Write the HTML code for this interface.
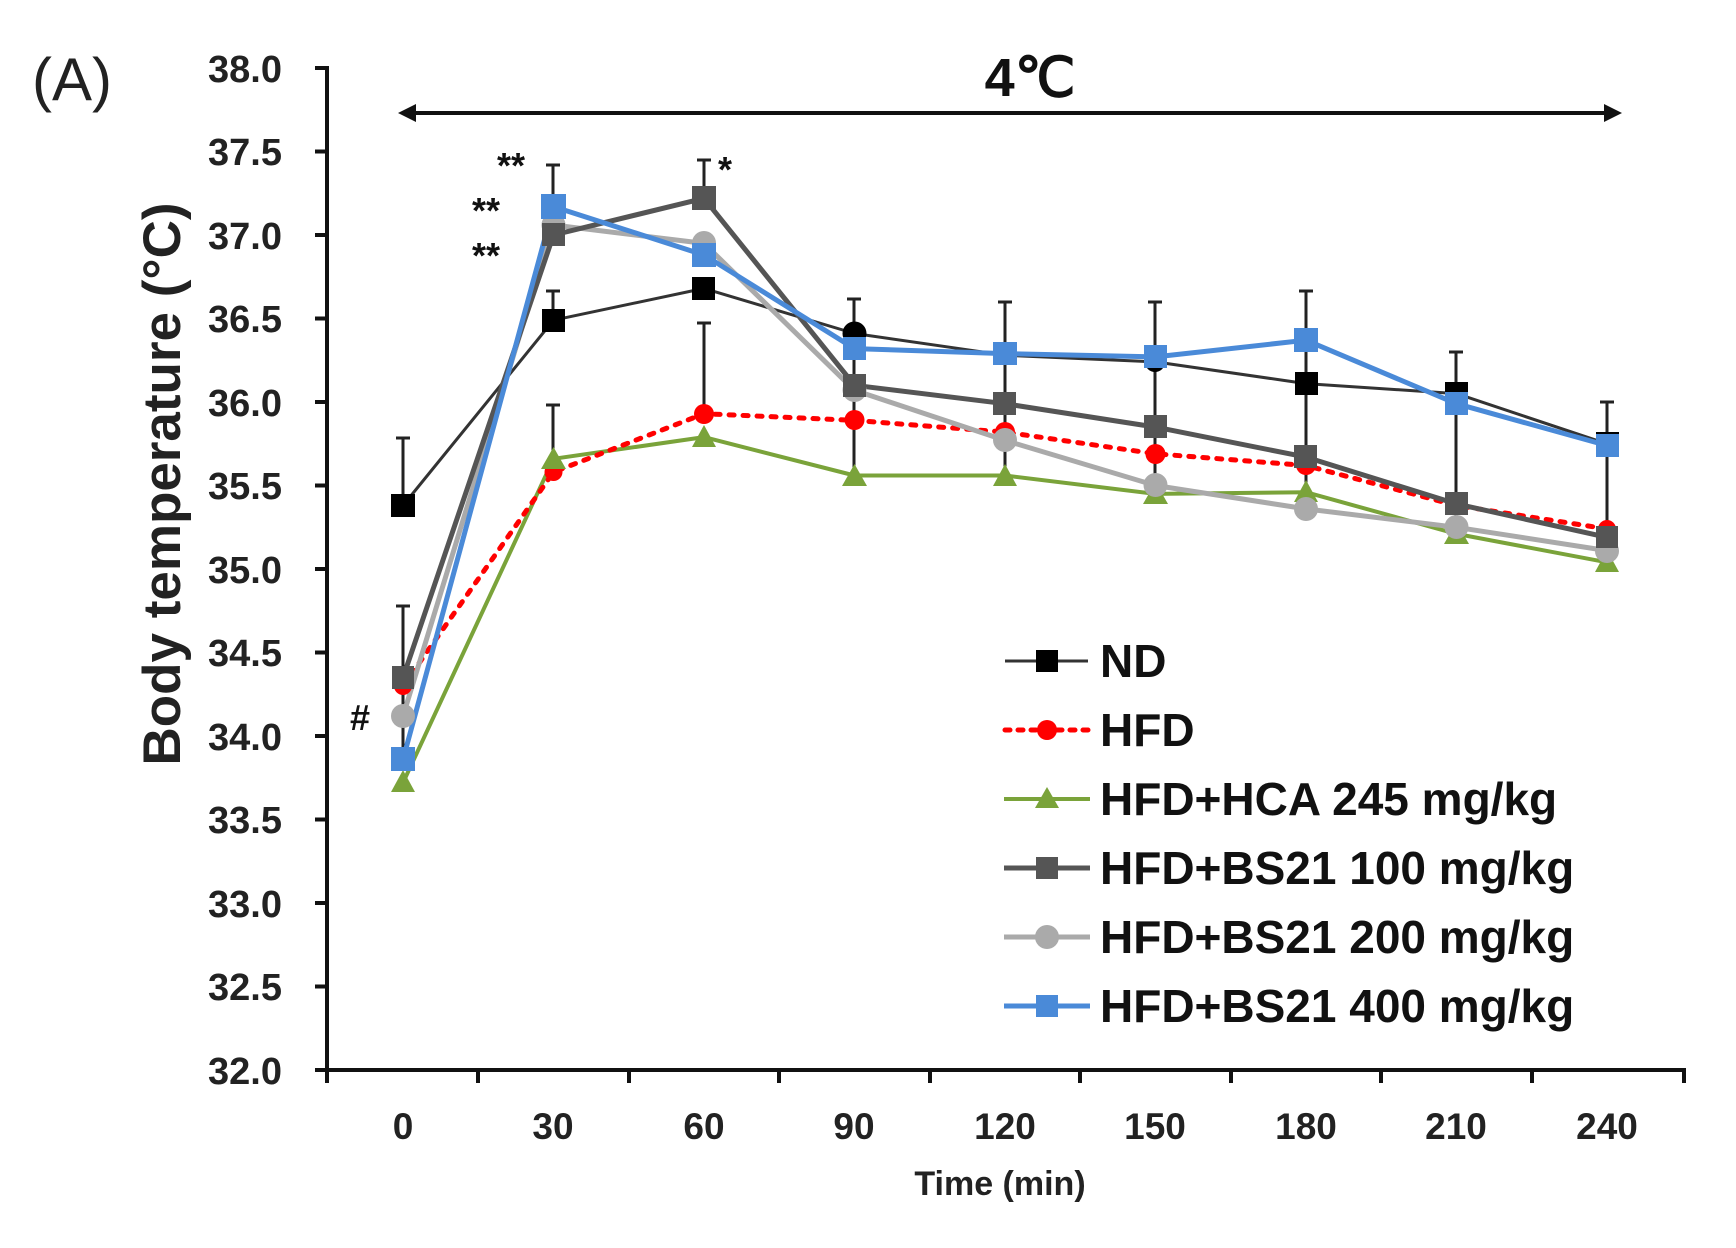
<!DOCTYPE html>
<html><head><meta charset="utf-8"><style>
html,body{margin:0;padding:0;background:#fff;}
svg{display:block;font-family:"Liberation Sans",Arial,sans-serif;}
</style></head><body>
<svg width="1736" height="1248" viewBox="0 0 1736 1248" xmlns="http://www.w3.org/2000/svg">
<rect width="1736" height="1248" fill="#fff"/>
<text x="32" y="100" font-size="60" fill="#222">(A)</text>
<g stroke="#111" stroke-width="4" fill="none">
<line x1="327" y1="66" x2="327" y2="1072"/>
<line x1="325" y1="1070" x2="1686" y2="1070"/>
<line x1="315" y1="68" x2="327" y2="68"/><line x1="315" y1="151.5" x2="327" y2="151.5"/>
<line x1="315" y1="235" x2="327" y2="235"/><line x1="315" y1="318.5" x2="327" y2="318.5"/>
<line x1="315" y1="402" x2="327" y2="402"/><line x1="315" y1="485.5" x2="327" y2="485.5"/>
<line x1="315" y1="569" x2="327" y2="569"/><line x1="315" y1="652.5" x2="327" y2="652.5"/>
<line x1="315" y1="736" x2="327" y2="736"/><line x1="315" y1="819.5" x2="327" y2="819.5"/>
<line x1="315" y1="903" x2="327" y2="903"/><line x1="315" y1="986.5" x2="327" y2="986.5"/>
<line x1="315" y1="1070" x2="327" y2="1070"/>
<line x1="478" y1="1070" x2="478" y2="1083"/><line x1="629" y1="1070" x2="629" y2="1083"/>
<line x1="779" y1="1070" x2="779" y2="1083"/><line x1="930" y1="1070" x2="930" y2="1083"/>
<line x1="1080" y1="1070" x2="1080" y2="1083"/><line x1="1231" y1="1070" x2="1231" y2="1083"/>
<line x1="1381" y1="1070" x2="1381" y2="1083"/><line x1="1532" y1="1070" x2="1532" y2="1083"/>
<line x1="1684" y1="1070" x2="1684" y2="1083"/><line x1="327" y1="1070" x2="327" y2="1083"/>
</g>
<g font-size="38" font-weight="bold" fill="#222" text-anchor="end">
<text x="282" y="82">38.0</text><text x="282" y="165">37.5</text><text x="282" y="249">37.0</text>
<text x="282" y="332">36.5</text><text x="282" y="416">36.0</text><text x="282" y="499">35.5</text>
<text x="282" y="583">35.0</text><text x="282" y="666">34.5</text><text x="282" y="750">34.0</text>
<text x="282" y="833">33.5</text><text x="282" y="917">33.0</text><text x="282" y="1000">32.5</text>
<text x="282" y="1084">32.0</text>
</g>
<g font-size="37" font-weight="bold" fill="#222" text-anchor="middle">
<text x="403" y="1139">0</text><text x="553" y="1139">30</text><text x="704" y="1139">60</text>
<text x="854" y="1139">90</text><text x="1005" y="1139">120</text><text x="1155" y="1139">150</text>
<text x="1306" y="1139">180</text><text x="1456" y="1139">210</text><text x="1607" y="1139">240</text>
</g>
<text x="1000" y="1195" font-size="34" font-weight="bold" fill="#222" text-anchor="middle">Time (min)</text>
<text transform="translate(180,484) rotate(-90)" font-size="53" font-weight="bold" fill="#222" text-anchor="middle">Body temperature (°C)</text>
<text x="1030" y="96" font-size="54" font-weight="bold" fill="#111" text-anchor="middle">4℃</text>
<line x1="410" y1="113" x2="1610" y2="113" stroke="#111" stroke-width="4"/>
<polygon points="398,113 416,104 416,122" fill="#111"/>
<polygon points="1622,113 1604,104 1604,122" fill="#111"/>
<g stroke="#222" stroke-width="3">
<line x1="403" y1="505" x2="403" y2="438"/><line x1="396" y1="438" x2="410" y2="438"/>
<line x1="403" y1="760" x2="403" y2="606"/><line x1="396" y1="606" x2="410" y2="606"/>
<line x1="553" y1="210" x2="553" y2="165"/><line x1="546" y1="165" x2="560" y2="165"/>
<line x1="553" y1="320" x2="553" y2="291"/><line x1="546" y1="291" x2="560" y2="291"/>
<line x1="553" y1="460" x2="553" y2="405"/><line x1="546" y1="405" x2="560" y2="405"/>
<line x1="704" y1="200" x2="704" y2="160"/><line x1="697" y1="160" x2="711" y2="160"/>
<line x1="704" y1="414" x2="704" y2="323"/><line x1="697" y1="323" x2="711" y2="323"/>
<line x1="854" y1="475" x2="854" y2="299"/><line x1="847" y1="299" x2="861" y2="299"/>
<line x1="1005" y1="475" x2="1005" y2="302"/><line x1="998" y1="302" x2="1012" y2="302"/>
<line x1="1155" y1="494" x2="1155" y2="302"/><line x1="1148" y1="302" x2="1162" y2="302"/>
<line x1="1306" y1="492" x2="1306" y2="291"/><line x1="1299" y1="291" x2="1313" y2="291"/>
<line x1="1456" y1="534" x2="1456" y2="352"/><line x1="1449" y1="352" x2="1463" y2="352"/>
<line x1="1607" y1="562" x2="1607" y2="402"/><line x1="1600" y1="402" x2="1614" y2="402"/>
</g>
<g fill="none" stroke-linejoin="round">
<polyline stroke="#333" stroke-width="3" points="403,505.5 553.5,320.2 704,288.4 854.5,333.5 1005,355.2 1155.5,361.9 1306,383.6 1456.5,393.6 1607,443.8"/>
<polyline stroke="#7aa33a" stroke-width="4" points="403,782.8 553.5,458.8 704,437.1 854.5,475.5 1005,475.5 1155.5,493.9 1306,492.2 1456.5,533.9 1607,562.3"/>
<polyline stroke="#f00" stroke-width="5" stroke-dasharray="5 9" stroke-linecap="round" points="403,685.9 553.5,472.1 704,413.7 854.5,420.4 1005,432.1 1155.5,453.8 1306,465.5 1456.5,505.5 1607,528.9"/>
<polyline stroke="#aaa" stroke-width="5" points="403,716 553.5,225 704,243.4 854.5,390.3 1005,440.4 1155.5,485.5 1306,508.9 1456.5,527.3 1607,550.6"/>
<polyline stroke="#555" stroke-width="5" points="403,677.6 553.5,235 704,198.3 854.5,385.3 1005,403.7 1155.5,427.1 1306,457.1 1456.5,503.9 1607,537.3"/>
<polyline stroke="#4a8ad8" stroke-width="5" points="403,759.4 553.5,206.6 704,255 854.5,348.6 1005,353.6 1155.5,356.9 1306,340.2 1456.5,403.7 1607,445.5"/>
</g>
<g fill="#000">
<rect x="391" y="494" width="24" height="23"/><rect x="542" y="309" width="23" height="23"/><rect x="692" y="277" width="23" height="23"/>
<circle cx="854.5" cy="333.5" r="12"/><circle cx="1005" cy="355" r="10"/><circle cx="1155" cy="362" r="10"/>
<rect x="1295" y="372" width="23" height="23"/><rect x="1445" y="382" width="23" height="23"/><rect x="1596" y="432" width="23" height="23"/>
</g>
<g fill="#f00">
<circle cx="403" cy="686" r="9"/><circle cx="553.5" cy="472" r="9"/><circle cx="704" cy="414" r="10"/><circle cx="854.5" cy="420" r="10"/>
<circle cx="1005" cy="432" r="10"/><circle cx="1155.5" cy="454" r="10"/><circle cx="1306" cy="465" r="10"/><circle cx="1456.5" cy="505" r="9"/><circle cx="1607" cy="529" r="9"/>
</g>
<g fill="#7aa33a">
<polygon points="403,770 415,792 391,792"/><polygon points="553.5,447 566,469 541,469"/><polygon points="704,425 716,447 692,447"/>
<polygon points="854.5,464 867,486 842,486"/><polygon points="1005,464 1017,486 993,486"/><polygon points="1155.5,482 1168,504 1143,504"/>
<polygon points="1306,480 1318,502 1294,502"/><polygon points="1456.5,522 1469,544 1444,544"/><polygon points="1607,550 1619,572 1595,572"/>
</g>
<g fill="#aaa">
<circle cx="403" cy="716" r="12"/><circle cx="553.5" cy="225" r="12"/><circle cx="704" cy="243" r="12"/><circle cx="854.5" cy="390" r="12"/>
<circle cx="1005" cy="440" r="12"/><circle cx="1155.5" cy="485" r="12"/><circle cx="1306" cy="509" r="12"/><circle cx="1456.5" cy="527" r="12"/><circle cx="1607" cy="551" r="12"/>
</g>
<g fill="#555">
<rect x="392" y="666" width="22" height="23"/><rect x="542" y="223" width="23" height="23"/><rect x="692" y="186" width="24" height="24"/>
<rect x="843" y="374" width="23" height="23"/><rect x="993" y="392" width="23" height="23"/><rect x="1144" y="415" width="23" height="23"/>
<rect x="1294" y="445" width="23" height="23"/><rect x="1445" y="492" width="23" height="23"/><rect x="1596" y="526" width="22" height="22"/>
</g>
<g fill="#4a8ad8">
<rect x="391" y="747" width="24" height="24"/><rect x="541" y="194" width="25" height="25"/><rect x="692" y="243" width="24" height="24"/>
<rect x="843" y="337" width="23" height="23"/><rect x="993" y="342" width="24" height="23"/><rect x="1144" y="345" width="23" height="23"/>
<rect x="1294" y="328" width="24" height="24"/><rect x="1445" y="392" width="23" height="23"/><rect x="1596" y="434" width="23" height="23"/>
</g>
<g font-size="36" font-weight="bold" fill="#111">
<text x="497" y="178">**</text><text x="472" y="223">**</text><text x="472" y="268">**</text><text x="718" y="182">*</text>
<text x="350" y="730">#</text>
</g>
<g stroke-width="4">
<line x1="1005" y1="661" x2="1088" y2="661" stroke="#333" stroke-width="3"/><rect x="1036" y="650" width="22" height="22" fill="#000"/>
<line x1="1005" y1="730" x2="1088" y2="730" stroke="#f00" stroke-width="5" stroke-dasharray="5 8" stroke-linecap="round"/><circle cx="1047" cy="730" r="10" fill="#f00"/>
<line x1="1004" y1="799" x2="1090" y2="799" stroke="#7aa33a"/><polygon points="1047,787 1059,808 1035,808" fill="#7aa33a"/>
<line x1="1004" y1="868" x2="1090" y2="868" stroke="#555" stroke-width="5"/><rect x="1036" y="857" width="22" height="22" fill="#555"/>
<line x1="1004" y1="937" x2="1090" y2="937" stroke="#aaa" stroke-width="5"/><circle cx="1047" cy="937" r="12" fill="#aaa"/>
<line x1="1004" y1="1006" x2="1090" y2="1006" stroke="#4a8ad8" stroke-width="5"/><rect x="1036" y="995" width="22" height="22" fill="#4a8ad8"/>
</g>
<g font-size="46" font-weight="bold" fill="#111">
<text x="1100" y="677">ND</text><text x="1100" y="746">HFD</text><text x="1100" y="815">HFD+HCA 245 mg/kg</text>
<text x="1100" y="884">HFD+BS21 100 mg/kg</text><text x="1100" y="953">HFD+BS21 200 mg/kg</text><text x="1100" y="1022">HFD+BS21 400 mg/kg</text>
</g>
</svg>
</body></html>
